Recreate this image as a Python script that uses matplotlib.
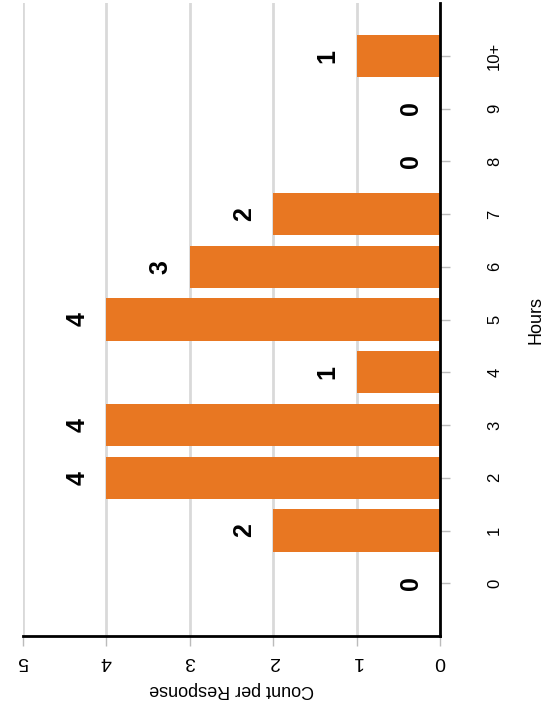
import matplotlib.pyplot as plt
import numpy as np

hours = ["0", "1", "2", "3", "4", "5", "6", "7", "8", "9", "10+"]
counts = [0, 2, 4, 4, 1, 4, 3, 2, 0, 0, 1]
value_ticks = [0, 1, 2, 3, 4, 5]

plt.rcParams['font.family'] = ['Liberation Sans', 'DejaVu Sans']

fig = plt.figure(figsize=(5.46, 7.15), dpi=100)
ax = fig.add_axes([23/546, 1 - 636/715, (440 - 23)/546, (636 - 3)/715])

pos = np.arange(len(hours))
ax.barh(pos, counts, height=0.8, color='#E87722', zorder=2)

# value labels, rotated like the rest of the chart
for p, c in zip(pos, counts):
    ax.text(c + 0.35, p, str(c), rotation=90, ha='center', va='center',
            fontsize=18, fontweight='bold', color='black')

ax.set_xlim(5, 0)
ax.set_ylim(-1, 11)

ax.set_xticks(value_ticks)
ax.set_xticklabels([str(v) for v in value_ticks], rotation=180, fontsize=14)
ax.set_yticks(pos)
ax.set_yticklabels(hours, rotation=90, fontsize=12, va='center')
ax.yaxis.tick_right()
ax.yaxis.set_label_position('right')

ax.tick_params(axis='x', length=7, width=1, color='#BBBBBB', pad=5)
ax.tick_params(axis='y', length=7, width=1, color='#BBBBBB', pad=27)

ax.grid(axis='x', color='#D9D9D9', linewidth=2, zorder=0)
ax.set_axisbelow(True)

for s in ['left', 'top']:
    ax.spines[s].set_visible(False)
for s in ['bottom', 'right']:
    ax.spines[s].set_linewidth(2)
    ax.spines[s].set_color('black')

ax.set_xlabel("Count per Response", rotation=180, fontsize=13, labelpad=8)
ax.set_ylabel("Hours", rotation=90, fontsize=13, labelpad=18)

fig.savefig("out.png", dpi=100)
